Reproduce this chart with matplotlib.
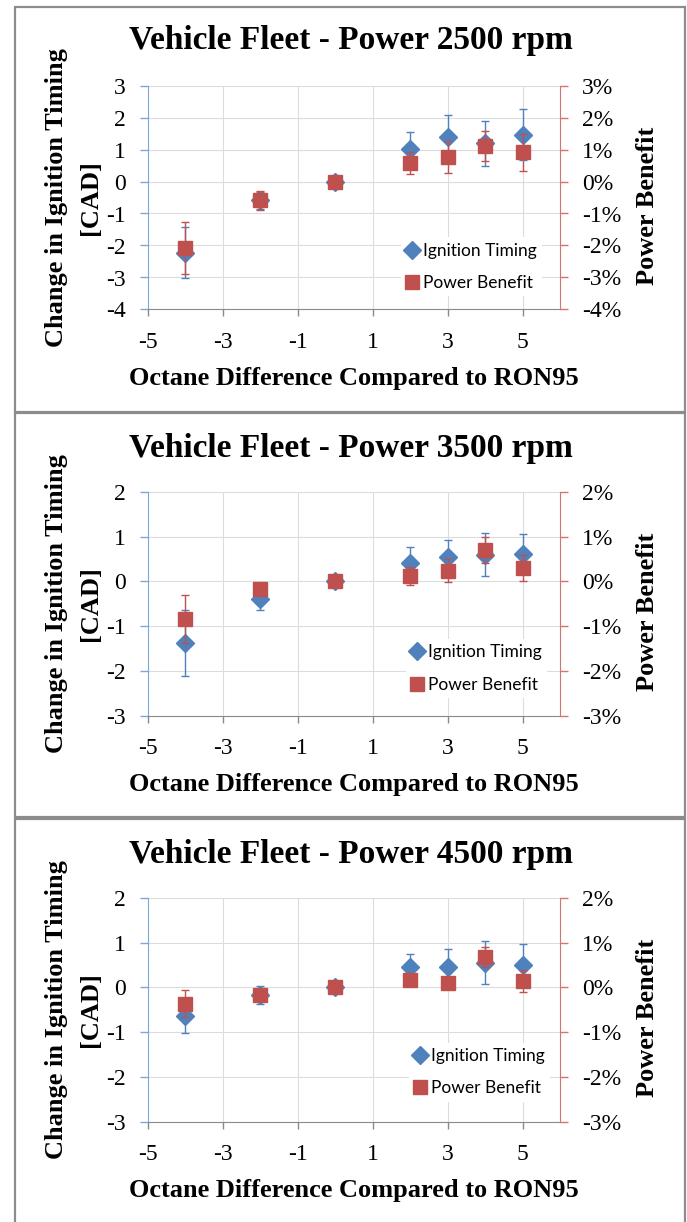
import matplotlib
matplotlib.use("Agg")
import matplotlib.pyplot as plt
from matplotlib.lines import Line2D
from matplotlib.patches import Rectangle
from matplotlib.ticker import FuncFormatter, MultipleLocator

octane_diff = [-4, -2, 0, 2, 3, 4, 5]
panel_titles = ["Vehicle Fleet - Power 2500 rpm",
                "Vehicle Fleet - Power 3500 rpm",
                "Vehicle Fleet - Power 4500 rpm"]

ign_2500 = [-2.23, -0.59, 0.0, 1.02, 1.38, 1.20, 1.46]
ign_2500_err = [0.80, 0.27, 0.03, 0.54, 0.71, 0.70, 0.80]
pow_2500 = [-2.07, -0.59, 0.0, 0.59, 0.78, 1.11, 0.92]      # %
pow_2500_err = [0.81, 0.29, 0.05, 0.34, 0.50, 0.47, 0.58]

ign_3500 = [-1.37, -0.39, 0.0, 0.42, 0.54, 0.60, 0.61]
ign_3500_err = [0.74, 0.24, 0.03, 0.34, 0.39, 0.49, 0.44]
pow_3500 = [-0.84, -0.17, 0.0, 0.13, 0.24, 0.70, 0.31]
pow_3500_err = [0.54, 0.05, 0.05, 0.20, 0.25, 0.29, 0.29]

ign_4500 = [-0.63, -0.16, 0.0, 0.45, 0.45, 0.55, 0.49]
ign_4500_err = [0.39, 0.20, 0.03, 0.30, 0.40, 0.48, 0.47]
pow_4500 = [-0.36, -0.18, 0.0, 0.16, 0.10, 0.67, 0.14]
pow_4500_err = [0.30, 0.10, 0.05, 0.08, 0.08, 0.22, 0.24]

y_limits = [(-4, 3), (-3, 2), (-3, 2)]
x_ticks = [-5, -3, -1, 1, 3, 5]

BLUE = "#4F81BD"
RED = "#C0504D"

plt.rcParams["font.family"] = ["Liberation Serif", "DejaVu Serif"]
plt.rcParams["axes.unicode_minus"] = False

fig = plt.figure(figsize=(6.87, 12.22), dpi=100)
W, H = 687.0, 1222.0

# рамки панелей (в пикселях: верх, низ)
for top, bottom in [(7, 412), (413, 817), (819, 1240)]:
    fig.patches.append(Rectangle((15 / W, 1 - bottom / H), 670 / W, (bottom - top) / H,
                                 transform=fig.transFigure, fill=False,
                                 edgecolor="#8c8c8c", linewidth=1.6))

# положение осей: верх и низ в пикселях
axes_px = [(85.5, 309.5), (491.7, 716.0), (897.7, 1122.0)]
title_y = [40, 448, 855]
legend_pos = [(0.592, 0.19), (0.604, 0.212), (0.612, 0.222)]

series = [(ign_2500, ign_2500_err, pow_2500, pow_2500_err),
          (ign_3500, ign_3500_err, pow_3500, pow_3500_err),
          (ign_4500, ign_4500_err, pow_4500, pow_4500_err)]

for i in range(3):
    top, bottom = axes_px[i]
    ign, ign_err, pw, pw_err = series[i]
    ax = fig.add_axes([148 / W, 1 - bottom / H, 412 / W, (bottom - top) / H])
    ax2 = ax.twinx()

    ax.errorbar(octane_diff, ign, yerr=ign_err, fmt="D", color=BLUE, ms=9,
                ecolor=BLUE, elinewidth=1, capsize=3, capthick=1, zorder=3)
    ax2.errorbar(octane_diff, pw, yerr=pw_err, fmt="s", color=RED, ms=10,
                 ecolor=RED, elinewidth=1, capsize=3, capthick=1, zorder=3)

    lo, hi = y_limits[i]
    for a in (ax, ax2):
        a.set_xlim(-5, 6)
        a.set_ylim(lo, hi)
        a.yaxis.set_major_locator(MultipleLocator(1))
    ax.set_xticks(x_ticks)
    ax2.yaxis.set_major_formatter(FuncFormatter(lambda v, p: f"{v:.0f}%"))

    ax.grid(True, color="#dcdcdc", linewidth=0.8)
    ax.set_axisbelow(True)
    for a in (ax, ax2):
        a.spines["top"].set_visible(False)
    ax.spines["right"].set_visible(False)
    ax2.spines["left"].set_visible(False)
    ax2.spines["bottom"].set_visible(False)
    ax.spines["left"].set_color("#7ea6d8")
    ax2.spines["right"].set_color("#d47370")
    ax.spines["bottom"].set_color("#8a8a8a")

    ax.tick_params(axis="y", colors="#7ea6d8", labelcolor="black", length=6,
                   width=1, labelsize=17, pad=10)
    ax.tick_params(axis="x", colors="#8a8a8a", labelcolor="black", length=5,
                   width=1, labelsize=17, pad=11)
    ax2.tick_params(axis="y", colors="#d47370", labelcolor="black", length=6,
                    width=1, labelsize=17, pad=10)

    ax.set_xlabel("Octane Difference Compared to RON95", fontsize=19,
                  fontweight="bold", labelpad=10)

    cy = 1 - (top + bottom) / 2 / H
    fig.text(56 / W, cy, "Change in Ignition Timing", rotation=90, fontsize=19,
             fontweight="bold", ha="center", va="center")
    fig.text(90 / W, cy, "[CAD]", rotation=90, fontsize=19,
             fontweight="bold", ha="center", va="center")
    fig.text(647 / W, cy - 8 / H, "Power Benefit", rotation=90, fontsize=19,
             fontweight="bold", ha="center", va="center")
    fig.text(351 / W, 1 - title_y[i] / H, panel_titles[i], fontsize=24,
             fontweight="bold", ha="center", va="center")

    handles = [Line2D([], [], marker="D", ls="none", color=BLUE, ms=9),
               Line2D([], [], marker="s", ls="none", color=RED, ms=10)]
    leg = ax2.legend(handles, ["Ignition Timing", "Power Benefit"],
                     loc="center left", bbox_to_anchor=legend_pos[i],
                     frameon=True, prop={"family": "Lato", "size": 12.5},
                     handlelength=0.7, handletextpad=0.3, labelspacing=0.95,
                     borderpad=0.3)
    leg.get_frame().set_edgecolor("none")
    leg.get_frame().set_facecolor("white")
    leg.get_frame().set_alpha(1)

fig.savefig("out.png", dpi=100)
